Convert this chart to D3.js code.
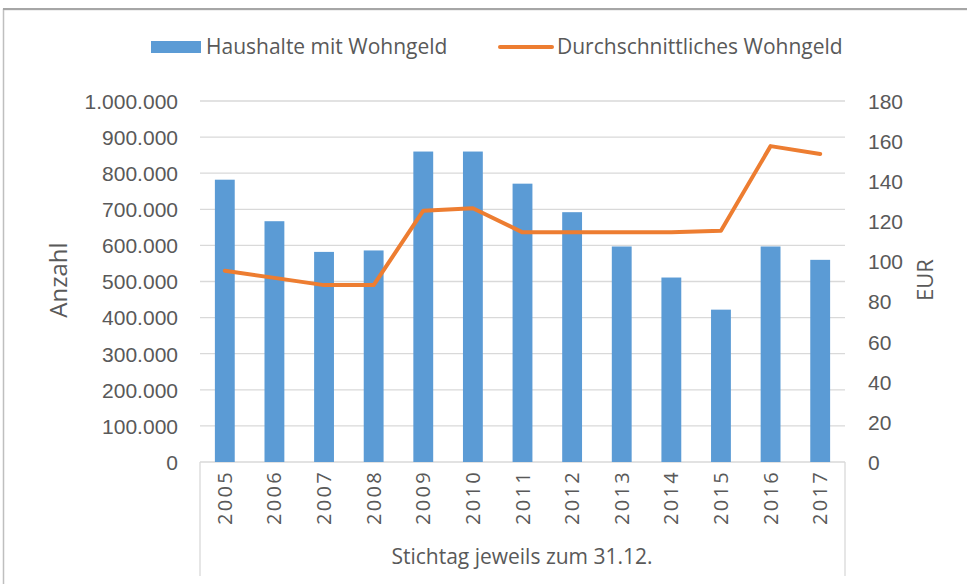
<!DOCTYPE html>
<html>
<head>
<meta charset="utf-8">
<script src="https://cdn.jsdelivr.net/npm/d3@7"></script>
<style>
  body { margin: 0; background: #fff; }
  svg { display: block; font-family: 'Open Sans', 'Liberation Sans', sans-serif; }
  .tick text { fill: #595959; }
</style>
</head>
<body>
<svg id="chart" width="967" height="584"></svg>
<script>
// Data
const years = ['2005', '2006', '2007', '2008', '2009', '2010', '2011', '2012', '2013', '2014', '2015', '2016', '2017'];
const households = [782000, 667000, 582000, 586000, 860000, 860000, 771000, 692000, 597000, 511000, 422000, 597000, 560000];
const avgBenefit = [95.4, 91.8, 88.2, 88.2, 125.3, 126.5, 114.5, 114.5, 114.5, 114.5, 115.3, 157.5, 153.6];
const leftTicks = [0, 100000, 200000, 300000, 400000, 500000, 600000, 700000, 800000, 900000, 1000000];
const rightTicks = [0, 20, 40, 60, 80, 100, 120, 140, 160, 180];

// Constants
const TEXT = '#595959';
const BLUE = '#5B9BD5';
const ORANGE = '#ED7D31';
const GRID = '#D9D9D9';
const plot = { left: 200, right: 845, top: 101, bottom: 462 };

const svg = d3.select('#chart');

// Outer frame
svg.append('rect')
  .attr('x', 3.5).attr('y', 9.5)
  .attr('width', 980).attr('height', 600)
  .attr('fill', 'none')
  .attr('stroke', '#BFBFBF')
  .attr('stroke-width', 1.5);
svg.append('line')
  .attr('x1', 3).attr('x2', 967).attr('y1', 9).attr('y2', 9)
  .attr('stroke', '#A6A6A6').attr('stroke-width', 2);

// Scales
const x = d3.scaleBand(years, [plot.left, plot.right]).paddingInner(0.6).paddingOuter(0.3);
const xCenter = (d) => x(d) + x.bandwidth() / 2;
const yLeft = d3.scaleLinear([0, 1000000], [plot.bottom, plot.top]);
const yRight = d3.scaleLinear([0, 180], [plot.bottom, plot.top]);
const fmt = (d) => d3.format(',')(d).replace(/,/g, '.');

// Gridlines
svg.append('g')
  .selectAll('line')
  .data(leftTicks.slice(1))
  .join('line')
  .attr('x1', plot.left).attr('x2', plot.right)
  .attr('y1', (d) => yLeft(d)).attr('y2', (d) => yLeft(d))
  .attr('stroke', GRID).attr('stroke-width', 1.3);

// Left axis
const leftAxis = svg.append('g')
  .attr('transform', `translate(${plot.left}, 0)`)
  .call(d3.axisLeft(yLeft).tickValues(leftTicks).tickFormat(fmt).tickSize(0).tickPadding(22));
leftAxis.select('.domain').remove();
leftAxis.selectAll('text').attr('font-size', 21).attr('dy', '0.35em');

// Right axis
const rightAxis = svg.append('g')
  .attr('transform', `translate(${plot.right}, 0)`)
  .call(d3.axisRight(yRight).tickValues(rightTicks).tickSize(0).tickPadding(23));
rightAxis.select('.domain').remove();
rightAxis.selectAll('text').attr('font-size', 21).attr('dy', '0.35em');

// Category box
const box = svg.append('g').attr('stroke', GRID).attr('stroke-width', 1.3);
box.append('line').attr('x1', plot.left).attr('x2', plot.right).attr('y1', plot.bottom).attr('y2', plot.bottom);
box.append('line').attr('x1', plot.left).attr('x2', plot.left).attr('y1', plot.bottom).attr('y2', 576);
box.append('line').attr('x1', plot.right).attr('x2', plot.right).attr('y1', plot.bottom).attr('y2', 576);

// Year labels
svg.append('g')
  .selectAll('text')
  .data(years)
  .join('text')
  .attr('transform', (d) => `translate(${xCenter(d) + 7}, 470) rotate(-90)`)
  .attr('text-anchor', 'end')
  .attr('font-size', 20)
  .attr('fill', TEXT)
  .attr('letter-spacing', 2.3)
  .text((d) => d);

// Bars
svg.append('g')
  .selectAll('rect')
  .data(years)
  .join('rect')
  .attr('x', (d) => x(d))
  .attr('width', x.bandwidth())
  .attr('y', (d, i) => yLeft(households[i]))
  .attr('height', (d, i) => plot.bottom - yLeft(households[i]))
  .attr('fill', BLUE);

// Line
const line = d3.line()
  .x((d, i) => xCenter(years[i]))
  .y((d) => yRight(d));
svg.append('path')
  .datum(avgBenefit)
  .attr('d', line)
  .attr('fill', 'none')
  .attr('stroke', ORANGE)
  .attr('stroke-width', 4)
  .attr('stroke-linejoin', 'round')
  .attr('stroke-linecap', 'round');

// Axis titles
svg.append('text')
  .attr('transform', 'translate(67, 280) rotate(-90)')
  .attr('text-anchor', 'middle')
  .attr('font-size', 24)
  .attr('fill', TEXT)
  .text('Anzahl');
svg.append('text')
  .attr('transform', 'translate(933, 280) rotate(-90)')
  .attr('text-anchor', 'middle')
  .attr('font-size', 22)
  .attr('fill', TEXT)
  .text('EUR');
svg.append('text')
  .attr('x', 522)
  .attr('y', 564)
  .attr('text-anchor', 'middle')
  .attr('font-size', 21)
  .attr('fill', TEXT)
  .text('Stichtag jeweils zum 31.12.');

// Legend
const legend = svg.append('g').attr('font-size', 21).attr('fill', TEXT);
legend.append('rect').attr('x', 151).attr('y', 41).attr('width', 50).attr('height', 12).attr('fill', BLUE);
legend.append('text').attr('x', 206).attr('y', 54).text('Haushalte mit Wohngeld');
legend.append('line')
  .attr('x1', 500).attr('x2', 552).attr('y1', 47).attr('y2', 47)
  .attr('stroke', ORANGE).attr('stroke-width', 4).attr('stroke-linecap', 'round');
legend.append('text').attr('x', 557).attr('y', 54).text('Durchschnittliches Wohngeld');
</script>
</body>
</html>
